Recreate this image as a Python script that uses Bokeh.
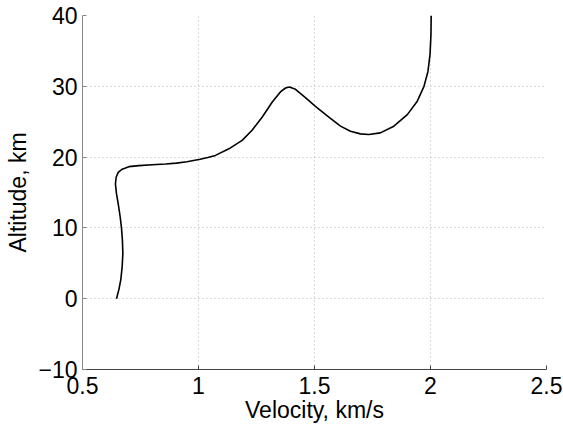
from bokeh.plotting import figure
from bokeh.models import Range1d, FixedTicker
from bokeh.embed import file_html
from bokeh.resources import INLINE

velocity = [0.6466, 0.6566, 0.665, 0.671, 0.674, 0.672, 0.668, 0.6625, 0.654, 0.6466,
            0.642, 0.645, 0.654, 0.671, 0.700, 0.743, 0.800, 0.858, 0.905, 0.950,
            1.007, 1.040, 1.073, 1.131, 1.188, 1.231, 1.275, 1.318, 1.353, 1.375,
            1.392, 1.418, 1.461, 1.504, 1.562, 1.612, 1.655, 1.698, 1.734, 1.784,
            1.842, 1.900, 1.943, 1.972, 1.989, 1.998, 2.002, 2.003]
altitude = [0.0, 1.26, 2.66, 4.53, 6.4, 8.27, 10.0, 11.54, 13.4, 14.8,
            16.2, 17.15, 17.85, 18.3, 18.65, 18.8, 18.93, 19.02, 19.15, 19.35,
            19.7, 19.95, 20.24, 21.17, 22.36, 23.8, 25.66, 27.78, 29.2, 29.76,
            29.9, 29.58, 28.4, 27.17, 25.66, 24.37, 23.66, 23.28, 23.2, 23.42,
            24.37, 26.0, 27.9, 30.0, 32.1, 34.5, 37.3, 40.0]

x_ticks = [0.5, 1, 1.5, 2, 2.5]
x_tick_labels = ["0.5", "1", "1.5", "2", "2.5"]
y_ticks = [-10, 0, 10, 20, 30, 40]
y_tick_labels = ["\u221210", "0", "10", "20", "30", "40"]

FONT = "Liberation Sans"

p = figure(width=563, height=425, output_backend="svg", toolbar_location=None,
           x_range=Range1d(0.5, 2.5), y_range=Range1d(-10, 40),
           min_border_left=82, min_border_right=17, min_border_top=15,
           min_border_bottom=56)
p.outline_line_color = None
p.background_fill_color = "white"
p.border_fill_color = "white"

p.line(velocity, altitude, line_color="black", line_width=1.6, line_join="round")

p.xaxis.ticker = FixedTicker(ticks=x_ticks)
p.yaxis.ticker = FixedTicker(ticks=y_ticks)
xo = {}
for t, l in zip(x_ticks, x_tick_labels):
    xo[float(t)] = l
    if float(t).is_integer():
        xo[int(t)] = l
p.xaxis.major_label_overrides = xo
p.yaxis.major_label_overrides = {t: l for t, l in zip(y_ticks, y_tick_labels)}

for ax in (p.xaxis, p.yaxis):
    ax.major_label_text_font = FONT
    ax.major_label_text_font_size = "23px"
    ax.major_label_text_color = "black"
    ax.axis_label_text_font = FONT
    ax.axis_label_text_font_size = "23px"
    ax.axis_label_text_font_style = "normal"
    ax.axis_label_text_color = "black"
    ax.major_tick_in = 4
    ax.major_tick_out = 0
    ax.minor_tick_line_color = None

p.xaxis.axis_label = "Velocity, km/s"
p.yaxis.axis_label = "Altitude, km"
p.xaxis.axis_line_color = "#444444"
p.xaxis.major_tick_line_color = "#444444"
p.yaxis.axis_line_color = "#888888"
p.yaxis.major_tick_line_color = "#888888"
p.xaxis.major_label_standoff = 7
p.xaxis.axis_label_standoff = 0
p.yaxis.major_label_standoff = 5
p.yaxis.axis_label_standoff = 4

for g in (p.xgrid, p.ygrid):
    g.grid_line_color = "#b4b4b4"
    g.grid_line_dash = "1 3"
    g.grid_line_width = 1
p.xgrid.ticker = FixedTicker(ticks=x_ticks)
p.ygrid.ticker = FixedTicker(ticks=y_ticks)

open("out.html", "w").write(file_html(p, INLINE))
